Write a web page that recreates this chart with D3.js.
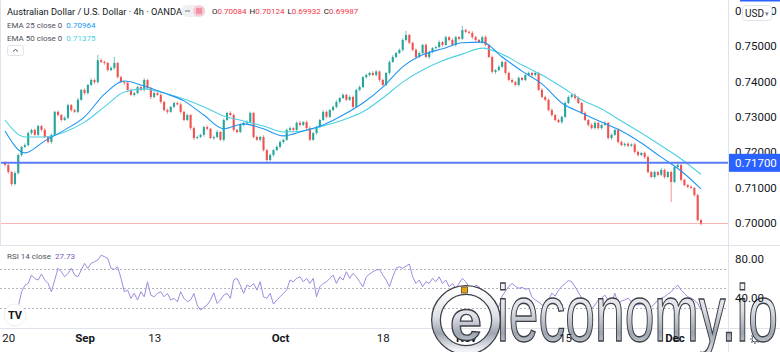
<!DOCTYPE html>
<html>
<head>
<meta charset="utf-8">
<script src="https://cdn.jsdelivr.net/npm/d3@7"></script>
<style>
  body { margin: 0; background: #fff; }
  svg { display: block; font-family: Roboto, "Liberation Sans", sans-serif; }
</style>
</head>
<body>
<svg id="chart" width="780" height="352"></svg>
<script>
// AUD/USD 4h candles (closes, open = previous close)
const firstOpen = 0.7172
const closes = [
  0.7164,0.7144,0.7110,0.7141,0.7192,0.7215,0.7220,0.7254,0.7263,0.7249,
  0.7274,0.7263,0.7243,0.7229,0.7249,0.7314,0.7305,0.7291,0.7297,0.7333,
  0.7319,0.7314,0.7348,0.7376,0.7367,0.7390,0.7404,0.7398,0.7460,0.7455,
  0.7452,0.7432,0.7438,0.7452,0.7412,0.7398,0.7396,0.7376,0.7362,0.7367,
  0.7384,0.7376,0.7404,0.7381,0.7356,0.7367,0.7362,0.7342,0.7319,0.7314,
  0.7328,
  0.7339,0.7335,0.7314,0.7291,0.7305,0.7268,0.7240,0.7243,0.7249,0.7271,
  0.7266,0.7240,0.7243,0.7257,0.7235,0.7291,0.7311,0.7305,0.7263,0.7257,
  0.7277,0.7283,0.7285,0.7311,0.7243,0.7235,0.7243,0.7206,0.7178,0.7192,
  0.7206,0.7215,0.7229,0.7235,0.7263,0.7268,0.7263,0.7283,0.7277,0.7285,
  0.7268,0.7235,0.7254,0.7271,0.7291,0.7314,0.7300,0.7319,0.7328,0.7342,
  0.7353,0.7362,0.7348,0.7356,
  0.7328,0.7376,0.7384,0.7412,0.7418,0.7424,0.7418,0.7428,0.7404,0.7390,
  0.7424,0.7455,0.7469,0.7480,0.7489,0.7517,0.7531,0.7509,0.7489,0.7469,
  0.7480,0.7503,0.7469,0.7483,0.7494,0.7497,0.7511,0.7503,0.7525,0.7517,
  0.7503,0.7525,0.7520,0.7545,0.7540,0.7537,0.7525,0.7517,0.7511,0.7525,
  0.7503,0.7469,0.7427,0.7432,0.7441,0.7455,0.7424,0.7404,0.7398,0.7390,
  0.7410,0.7404,0.7418,0.7424,0.7418,0.7424,0.7376,0.7356,
  0.7348,0.7319,0.7305,0.7291,0.7285,0.7300,0.7339,0.7356,0.7362,0.7353,
  0.7339,0.7311,0.7291,0.7277,0.7268,0.7283,0.7268,0.7277,0.7283,0.7240,
  0.7249,0.7263,0.7229,0.7220,0.7224,0.7218,0.7222,0.7201,0.7192,0.7198,
  0.7186,0.7144,0.7130,0.7144,0.7136,0.7150,0.7130,0.7144,0.7116,0.7158,
  0.7164,0.7122,0.7107,0.7102,0.7099,0.7079,0.70084,0.69987
]
// wick lengths beyond the body, in pips
const wickUp = [
  3,4,3,5,4,3,5,4,3,4, 4,3,5,3,4,3,4,3,5,4, 3,4,5,3,4,3,5,4,15,5, 4,3,5,17,3,4,3,5,4,3,
  4,3,5,3,4,5,3,4,3,4,3,
  3,4,5,3,4,3,5,4,3,4, 5,3,4,6,3,4,3,5,4,3, 4,3,5,4,3,4,3,5,3,4, 3,5,4,3,4,5,3,4,6,3,
  4,5,3,4,3,5,4,3,4,5, 3,4,3,5,
  4,3,5,3,4,3,5,4,3,4, 3,4,5,3,4,5,12,4,3,5, 4,3,5,4,3,4,5,3,4,3, 5,4,3,12,4,3,5,4,3,4,
  5,3,4,3,5,4,3,4,5,3, 4,3,5,4,3,4,3,5,
  3,4,5,3,4,3,5,4,3,4, 5,3,4,3,5,4,3,4,5,3, 4,3,5,4,3,4,3,5,4,3, 4,5,3,4,3,5,4,3,4,3,
  5,4,3,4,5,3,4,4
]
const wickDn = [
  4,5,6,3,4,5,3,4,5,3, 4,5,3,4,5,3,4,5,3,4, 5,3,4,3,5,4,3,5,4,3, 5,4,3,5,4,3,6,4,3,5,
  3,4,5,3,6,4,3,5,4,6,3,
  4,3,5,4,3,5,6,4,3,5, 4,3,6,4,3,5,4,3,5,4, 3,4,5,3,4,3,5,4,8,4, 5,3,4,5,3,4,3,5,4,3,
  6,4,3,5,4,3,5,4,3,4, 5,3,4,3,
  5,3,4,3,5,4,3,4,5,3, 4,5,3,4,3,5,4,3,4,5, 3,4,3,5,4,3,4,5,3,4, 3,5,4,3,4,3,5,4,3,5,
  4,3,5,6,4,3,5,4,3,4, 5,3,4,3,5,4,3,4,
  4,3,5,4,3,5,4,3,4,5, 3,4,3,5,4,3,5,4,3,4, 5,3,4,3,5,4,3,5,4,3, 5,4,3,5,4,3,5,4,57,3,
  4,5,3,4,3,5,4,5.5
]
const pip = 0.0001

// EMA values read every 6th candle
const emaStep = 6
const ema25 = [0.7260,0.7198,0.7232,0.7263,0.7300,0.7364,0.7401,0.7387,0.7367,0.7345,
  0.7305,0.7266,0.7280,0.7266,0.7246,0.7260,0.7277,0.7305,0.7339,0.7384,
  0.7441,0.7475,0.7492,0.7509,0.7511,0.7469,0.7429,0.7393,0.7339,0.7311,
  0.7285,0.7260,0.7226,0.7186,0.7147,0.70964]
const ema50 = [0.7291,0.7243,0.7243,0.7257,0.7285,0.7328,0.7370,0.7379,0.7367,0.7350,
  0.7328,0.7302,0.7288,0.7274,0.7257,0.7260,0.7274,0.7291,0.7314,0.7353,
  0.7398,0.7432,0.7458,0.7477,0.7494,0.7477,0.7446,0.7418,0.7384,0.7348,
  0.7322,0.7288,0.7254,0.7218,0.7181,0.71375]

// RSI 14, one value per candle
const rsi = [
  20.8,21.5,23,26,31,46.5,53,55,63.6,60, 58.5,64.6,58.5,55,46.5,58.5,70.5,67,61.8,65.3,
  70.5,63.6,61.8,68.7,75.6,70.5,75.6,77.3,79,84, 82.5,80.7,70.5,69.4,72.1,60.2,46.5,48.2,39.7,44.8,
  38,46.5,41.3,56.7,43,41.3,44.8,46.5,41.3,44.8, 38,39.7,36.2,46.5,39.7,36.2,38,44.8,32.8,27.7,
  30.5,32.8,38,45.4,34.5,38,43,44.8,39.7,58.5, 60.2,53.3,44.8,53.3,51.6,55,48.2,56.7,41.3,39.7,
  44.8,33.8,38,41.3,44.8,48.2,58.5,56.7,60.2,61.8, 56.7,60.2,55,60.2,41.3,51.6,55,56.7,60.2,63.6,
  55,61.8,58.5,67,60.2,65.3,61.8,56.7,51.6,61.8, 64.6,
  67,68.7,69.4,63.6,58.5,51.6,61.8,70.5,72.1,70.5, 72.8,74.9,61.8,55,58.5,51.6,56.7,55,60.2,56.7,
  61.8,55,58.5,51.6,55,50,55,60.2,56.7,51.6, 48.2,53.3,51.6,44.8,39.7,36.2,32.8,
  33,31,42,47,52,55,52,50,51,49, 50,41,38,36,33,31,38,45,42,48,
  52,55,58,56.7,51.6,46,40,34.5,31,29, 33,38,40,43,38,34.5,45,34.5,37,38,
  40,36,34,32.8,34,34.5,33,31,34,38, 40,41.3,44,46.5,50,53.3,48,44.8,41.3,40,
  38,34.5,27.73
]

const priceTicks = [0.70, 0.71, 0.72, 0.73, 0.74, 0.75, 0.76]
const rsiTicks = [80, 40]
const rsiBands = [70, 50, 30]
const timeLabels = ["20", "Sep", "13", "Oct", "18", "Nov", "15", "Dec"]
const timeIdx = [1, 24, 45, 83, 114, 139, 169, 202]
const monthLabels = ["Sep", "Oct", "Nov", "Dec"]
const hLevel = 0.717
const ohlc = [["O", "0.70084"], ["H", "0.70124"], ["L", "0.69932"], ["C", "0.69987"]]

const c_up = "#26a69a", c_down = "#ef5350"
const c_ema25 = "#2196f3", c_ema50 = "#4dd0e1", c_rsi = "#a08ae0"
const c_text = "#131722", c_grey = "#787b86", c_sep = "#e0e3eb"

var svg = d3.select("#chart")
var W = 780, axisX = 728
var pane = {top: 0, bottom: 245}, rsiPane = {top: 246, bottom: 328}

svg.append("rect").attr("width", W).attr("height", 352).attr("fill", "#fff")

var n = closes.length
var x = d3.scaleLinear().domain([0, n - 1]).range([5, 701])
var y = d3.scaleLinear().domain([0.69379, 0.76299]).range([pane.bottom, pane.top])
var yr = d3.scaleLinear().domain([9.3, 93.4]).range([rsiPane.bottom, rsiPane.top])

var defs = svg.append("defs")
defs.append("clipPath").attr("id", "clipPrice").append("rect")
  .attr("x", 0).attr("y", 0).attr("width", axisX).attr("height", pane.bottom)

// candles
var candles = closes.map(function(c, i) {
  var o = i === 0 ? firstOpen : closes[i - 1]
  return {i: i, o: o, c: c,
    hi: Math.max(o, c) + (wickUp[i] || 3) * pip,
    lo: Math.min(o, c) - (wickDn[i] || 3) * pip}
})

var gPrice = svg.append("g").attr("clip-path", "url(#clipPrice)")

// last price line
gPrice.append("line")
  .attr("x1", 0).attr("x2", axisX)
  .attr("y1", Math.round(y(closes[n - 1])) + 0.5).attr("y2", Math.round(y(closes[n - 1])) + 0.5)
  .style("stroke", "#f7b6b4").style("stroke-width", 1)

gPrice.selectAll(".wick").data(candles).enter().append("line")
  .attr("x1", function(d) { return x(d.i) }).attr("x2", function(d) { return x(d.i) })
  .attr("y1", function(d) { return y(d.hi) }).attr("y2", function(d) { return y(d.lo) })
  .style("stroke", function(d) { return d.c >= d.o ? c_up : c_down })
  .style("stroke-width", 0.9).style("opacity", 0.7)

gPrice.selectAll(".body").data(candles).enter().append("rect")
  .attr("x", function(d) { return x(d.i) - 1.05 })
  .attr("width", 2.1)
  .attr("y", function(d) { return y(Math.max(d.o, d.c)) })
  .attr("height", function(d) { return Math.max(1, Math.abs(y(d.o) - y(d.c))) })
  .attr("fill", function(d) { return d.c >= d.o ? c_up : c_down })

// EMAs
var emaLine = d3.line()
  .x(function(d, k) { return x(k * emaStep) })
  .y(function(d) { return y(d) })
  .curve(d3.curveMonotoneX)
gPrice.append("path").datum(ema50).attr("d", emaLine)
  .style("fill", "none").style("stroke", c_ema50).style("stroke-width", 1.1)
gPrice.append("path").datum(ema25).attr("d", emaLine)
  .style("fill", "none").style("stroke", c_ema25).style("stroke-width", 1.1)

// horizontal level
svg.append("line")
  .attr("x1", 0).attr("x2", axisX)
  .attr("y1", y(hLevel)).attr("y2", y(hLevel))
  .style("stroke", "#5b7bf7").style("stroke-width", 2)

// separators
svg.append("line").attr("x1", 0).attr("x2", W).attr("y1", pane.bottom + 0.5).attr("y2", pane.bottom + 0.5)
  .style("stroke", c_sep)
svg.append("line").attr("x1", 0).attr("x2", W).attr("y1", rsiPane.bottom + 0.5).attr("y2", rsiPane.bottom + 0.5)
  .style("stroke", c_sep)
svg.append("line").attr("x1", axisX + 0.5).attr("x2", axisX + 0.5).attr("y1", 0).attr("y2", 352)
  .style("stroke", c_sep)
svg.append("line").attr("x1", 0.5).attr("x2", 0.5).attr("y1", 0).attr("y2", pane.bottom)
  .style("stroke", c_sep)

// price axis
var priceAxis = d3.axisRight(y).tickValues(priceTicks).tickFormat(d3.format(".5f")).tickSize(0).tickPadding(7)
var gAxis = svg.append("g").attr("transform", "translate(" + axisX + ",0)").call(priceAxis)
gAxis.select(".domain").remove()
gAxis.selectAll("text").style("font-size", "11.5px").style("fill", c_text)
  .style("font-family", "Roboto, 'Liberation Sans', sans-serif")

// level label
svg.append("rect").attr("x", axisX + 1).attr("y", y(hLevel) - 9).attr("width", W - axisX - 1).attr("height", 18)
  .attr("fill", "#2962ff")
svg.append("text").attr("x", axisX + 7).attr("y", y(hLevel) + 4)
  .style("font-size", "11.5px").style("fill", "#fff").text(d3.format(".5f")(hLevel))

// USD button over the top label
svg.append("rect").attr("x", 740).attr("y", 0).attr("width", 40).attr("height", 1.5).attr("fill", "#2962ff")
svg.append("rect").attr("x", 742.5).attr("y", 5.5).attr("width", 29).attr("height", 15).attr("rx", 3)
  .attr("fill", "#fff").style("stroke", c_sep)
svg.append("text").attr("x", 745).attr("y", 17).style("font-size", "10px").style("fill", c_text).text("USD")
svg.append("text").attr("x", 765).attr("y", 16).style("font-size", "7px").style("fill", c_grey).text("▾")

// RSI pane
svg.selectAll(".band").data(rsiBands).enter().append("line")
  .attr("x1", 0).attr("x2", axisX)
  .attr("y1", function(d) { return Math.round(yr(d)) + 0.5 })
  .attr("y2", function(d) { return Math.round(yr(d)) + 0.5 })
  .style("stroke", "#b2b5be").style("stroke-dasharray", "2,2")

var rsiLine = d3.line().x(function(d, i) { return x(i) }).y(function(d) { return yr(d) })
svg.append("path").datum(rsi).attr("d", rsiLine)
  .style("fill", "none").style("stroke", c_rsi).style("stroke-width", 1)

// settings gear
var gear = svg.append("g").attr("transform", "translate(755,339)")
gear.append("circle").attr("r", 3).attr("fill", "none").style("stroke", "#50535e").style("stroke-width", 1)
d3.range(8).forEach(function(k) {
  var a = k * Math.PI / 4
  gear.append("line").attr("x1", 3.6 * Math.cos(a)).attr("y1", 3.6 * Math.sin(a))
    .attr("x2", 5 * Math.cos(a)).attr("y2", 5 * Math.sin(a))
    .style("stroke", "#50535e").style("stroke-width", 1.2)
})

// legends
svg.append("text").attr("x", 7).attr("y", 14.5).style("font-size", "9.3px").style("fill", c_text)
  .text("Australian Dollar / U.S. Dollar · 4h · OANDA")
svg.append("rect").attr("x", 181.5).attr("y", 5).attr("width", 24).attr("height", 12).attr("rx", 6).attr("fill", "#eef0f4")
svg.append("rect").attr("x", 193).attr("y", 5.5).attr("width", 12).attr("height", 11).attr("rx", 5.5).attr("fill", "#f8c9d0")
svg.append("line").attr("x1", 185).attr("x2", 190).attr("y1", 11).attr("y2", 11).style("stroke", "#787b86")
;[9, 11, 13].forEach(function(yy) {
  svg.append("line").attr("x1", 196).attr("x2", 202).attr("y1", yy).attr("y2", yy).style("stroke", "#e04463").style("stroke-width", 0.8)
})
var tOhlc = svg.append("text").attr("x", 212).attr("y", 14).style("font-size", "8px")
ohlc.forEach(function(p, k) {
  tOhlc.append("tspan").attr("dx", k ? 3 : 0).style("fill", c_text).text(p[0])
  tOhlc.append("tspan").style("fill", "#f23645").text(p[1])
})

var emaLegend = [["EMA 25 close 0", ema25[ema25.length - 1], c_ema25, 27.5], ["EMA 50 close 0", ema50[ema50.length - 1], c_ema50, 40.5]]
emaLegend.forEach(function(e) {
  var t = svg.append("text").attr("x", 7).attr("y", e[3]).style("font-size", "8px")
  t.append("tspan").style("fill", "#50535e").text(e[0])
  t.append("tspan").attr("dx", 4).style("fill", e[2]).text(d3.format(".5f")(e[1]))
})
var tr = svg.append("text").attr("x", 7).attr("y", 258.5).style("font-size", "8px")
tr.append("tspan").style("fill", "#50535e").text("RSI 14 close")
tr.append("tspan").attr("dx", 4).style("fill", "#7e57c2").text(d3.format(".2f")(rsi[rsi.length - 1]))

// collapse button
svg.append("rect").attr("x", 7.5).attr("y", 45.5).attr("width", 16).attr("height", 10).attr("rx", 2)
  .attr("fill", "#fff").style("stroke", c_sep)
svg.append("path").attr("d", "M13,51.5 L15.5,49.5 L18,51.5").attr("fill", "none").style("stroke", "#50535e")

// TradingView badge
svg.append("circle").attr("cx", 15).attr("cy", 315).attr("r", 11).attr("fill", "#fff").style("stroke", "#eceef2")
svg.append("text").attr("x", 15).attr("y", 319).attr("text-anchor", "middle")
  .style("font-size", "11px").style("font-weight", "bold").style("fill", c_text).text("TV")

// ieconomy.io watermark text (axis labels sit above it)
var metal = defs.append("linearGradient").attr("id", "metal").attr("x1", "0%").attr("y1", "0%").attr("x2", "0%").attr("y2", "100%")
metal.append("stop").attr("offset", "0%").attr("stop-color", "#ffffff")
metal.append("stop").attr("offset", "45%").attr("stop-color", "#dde0e6")
metal.append("stop").attr("offset", "72%").attr("stop-color", "#9ea5b0")
metal.append("stop").attr("offset", "100%").attr("stop-color", "#f0f2f5")
svg.append("text").attr("x", 497).attr("y", 341)
  .attr("textLength", 281).attr("lengthAdjust", "spacingAndGlyphs")
  .style("font-size", "80px").style("font-family", "'Liberation Sans', Arial, sans-serif")
  .style("fill", "url(#metal)").style("stroke", "#3c3f46").style("stroke-width", 1.4)
  .text("ieconomy.io")

// RSI axis
var rsiAxis = d3.axisRight(yr).tickValues(rsiTicks).tickFormat(d3.format(".2f")).tickSize(0).tickPadding(7)
var gRsiAxis = svg.append("g").attr("transform", "translate(" + axisX + ",0)").call(rsiAxis)
gRsiAxis.select(".domain").remove()
gRsiAxis.selectAll("text").style("font-size", "11.5px").style("fill", c_text)
  .style("font-family", "Roboto, 'Liberation Sans', sans-serif")

// time axis
var timeAxis = d3.axisBottom(x).tickValues(timeIdx)
  .tickFormat(function(d, i) { return timeLabels[i] }).tickSize(0).tickPadding(6)
var gTime = svg.append("g").attr("transform", "translate(0," + rsiPane.bottom + ")").call(timeAxis)
gTime.select(".domain").remove()
gTime.selectAll("text").style("font-size", "11.5px").style("fill", c_text)
  .style("font-family", "Roboto, 'Liberation Sans', sans-serif")
  .style("font-weight", function(d, i) { return monthLabels.includes(timeLabels[i]) ? "bold" : "normal" })

// ieconomy.io round logo
var wm = svg.append("g")
wm.append("circle").attr("cx", 466).attr("cy", 320).attr("r", 30).attr("fill", "none")
  .style("stroke", "#3c3f46").style("stroke-width", 10)
wm.append("circle").attr("cx", 466).attr("cy", 320).attr("r", 30).attr("fill", "none")
  .style("stroke", "url(#metal)").style("stroke-width", 7.5)
wm.append("text").attr("x", 466).attr("y", 340).attr("text-anchor", "middle")
  .style("font-size", "58px").style("font-weight", "bold").style("font-family", "'Liberation Sans', Arial, sans-serif")
  .style("fill", "url(#metal)").style("stroke", "#3c3f46").style("stroke-width", 1.3).text("e")
wm.append("rect").attr("x", 461.5).attr("y", 287).attr("width", 6).attr("height", 6)
  .attr("fill", "#e8a317").style("stroke", "#5a4a20").style("stroke-width", 0.8)
</script>
</body>
</html>
